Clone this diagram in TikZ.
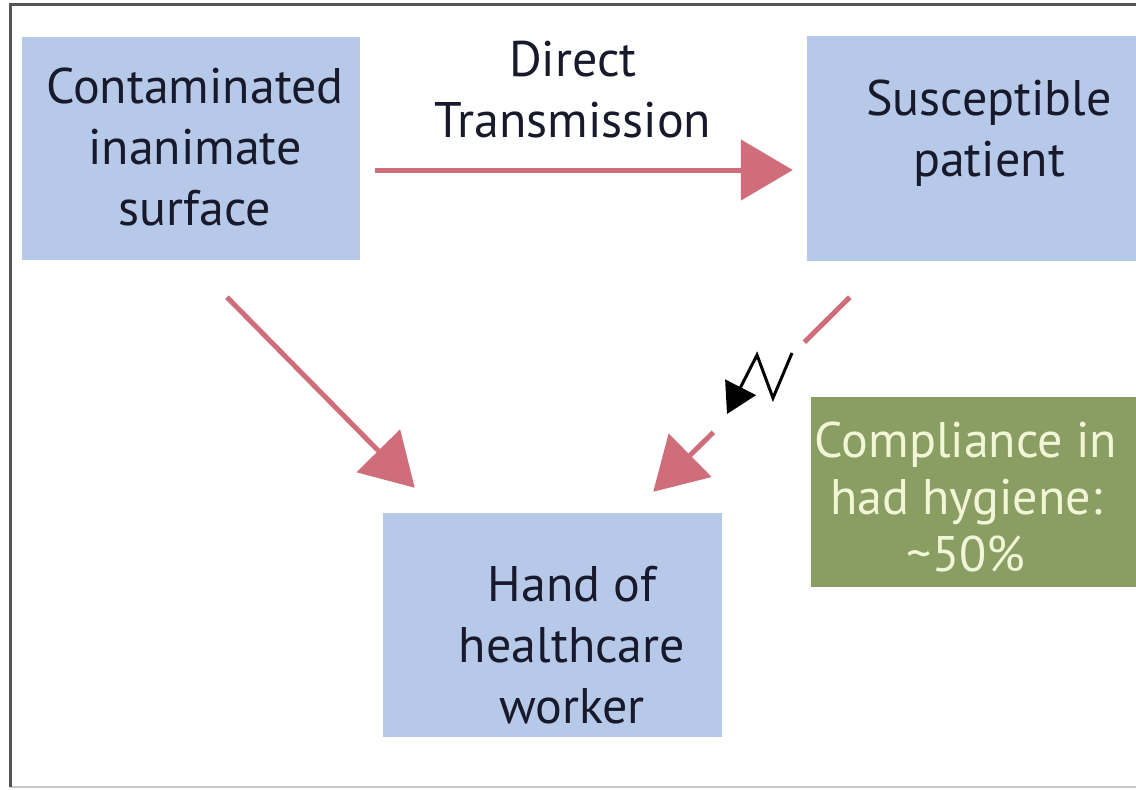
\documentclass[tikz,border=0pt]{standalone}
\usepackage{fontspec}
\setmainfont{PT Sans}
\usetikzlibrary{arrows.meta,calc}
\definecolor{boxblue}{RGB}{182,201,232}
\definecolor{boxgreen}{RGB}{138,157,99}
\definecolor{arrowred}{RGB}{207,110,122}
\definecolor{navytext}{RGB}{24,26,44}
\definecolor{creamtext}{RGB}{240,246,214}
\definecolor{framedark}{RGB}{85,85,85}
\definecolor{framelight}{RGB}{200,200,200}
\tikzset{
  bluebox/.style={fill=boxblue, draw=none, inner sep=0pt},
  greenbox/.style={fill=boxgreen, draw=none, inner sep=0pt},
  txt/.style={align=center, text=navytext, font=\fontsize{50}{61}\selectfont, inner sep=0pt},
  gtxt/.style={align=center, text=creamtext, font=\fontsize{50}{57}\selectfont, inner sep=0pt},
  arr/.style={draw=arrowred, line width=5pt, -{Triangle[length=52pt,width=60pt,fill=arrowred]}},
  bolt/.style={draw=black, line width=3pt, line join=miter, -{Triangle[length=30pt,width=34pt]}}
}
\begin{document}
\begin{tikzpicture}[x=1pt,y=-1pt]
\clip (0,0) rectangle (1136,790);
\fill[white] (0,0) rectangle (1136,790);
% frame
\draw[framelight, line width=2pt] (10,787) -- (1140,787);
\draw[framedark, line width=3pt] (10,787) -- (10,4) -- (1140,4);
% boxes
\node[bluebox, minimum width=338pt, minimum height=223pt] (A) at (191,148.5) {};
\node[bluebox, minimum width=364pt, minimum height=225pt] (B) at (989,148.5) {};
\node[bluebox, minimum width=339pt, minimum height=224pt] (C) at (552.5,625) {};
\node[greenbox, minimum width=340pt, minimum height=190pt] (D) at (981,492) {};
% texts
\node[txt] (At) at (195,147) {Contaminated\\inanimate\\surface};
\node[txt] (Bt) at (989,133) {Susceptible\\patient};
\node[txt] (Ct) at (572,645) {Hand of\\healthcare\\worker};
\node[gtxt] (Dt) at (966,497) {Compliance in\\had hygiene:\\\textasciitilde 50\%};
\node[txt] (L) at (573,90) {Direct\\Transmission};
% connectors
\draw[arr] ([shift={(15,21.5)}]A.east) -- ([shift={(-14,21.5)}]B.west);
\draw[arr] ([shift={(36,37)}]A.south) -- ([shift={(32,-25)}]C.north west);
\draw[arr, dash pattern=on 64pt off 128pt on 400pt] ([shift={(43,36)}]B.south west) -- ([shift={(-69,-21)}]C.north east);
% lightning bolt
\coordinate (z0) at (792,353);
\coordinate (z1) at (773,398);
\coordinate (z2) at (757,355);
\coordinate (z3) at (727,414);
\draw[bolt] (z0) -- (z1) -- (z2) -- (z3);
\end{tikzpicture}
\end{document}
